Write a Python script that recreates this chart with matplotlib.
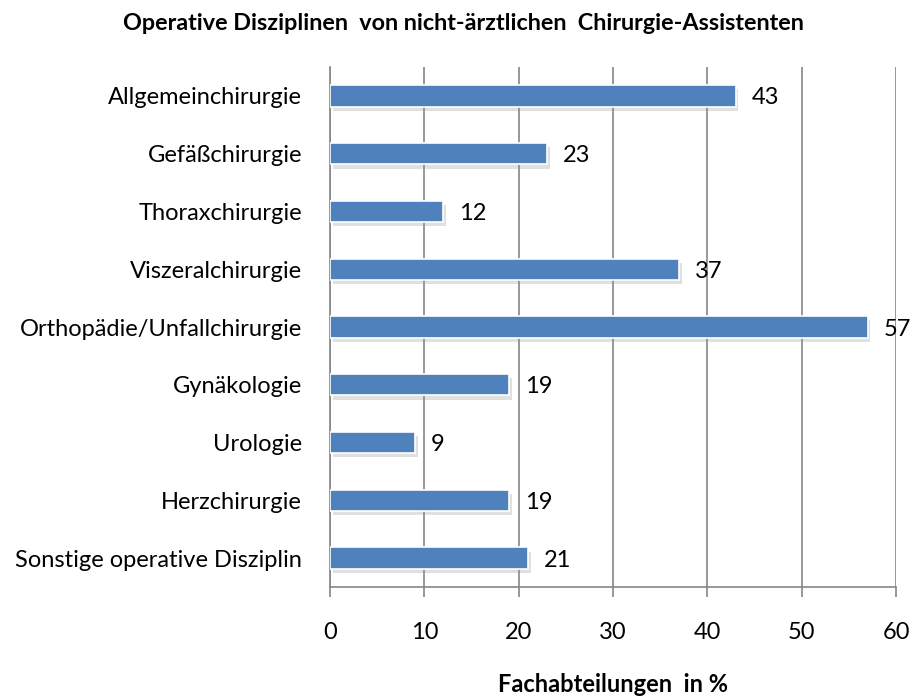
import matplotlib
matplotlib.use("Agg")
import matplotlib.pyplot as plt
import matplotlib.patheffects as pe

categories = ["Allgemeinchirurgie", "Gefäßchirurgie", "Thoraxchirurgie",
              "Viszeralchirurgie", "Orthopädie/Unfallchirurgie", "Gynäkologie",
              "Urologie", "Herzchirurgie", "Sonstige operative Disziplin"]
values = [43, 23, 12, 37, 57, 19, 9, 19, 21]
xticks = [0, 10, 20, 30, 40, 50, 60]

plt.rcParams['font.family'] = ['Lato', 'DejaVu Sans']

fig = plt.figure(figsize=(9.13, 6.97), dpi=100)
ax = fig.add_axes([330/913, 1-587/697, (896-330)/913, (587-67)/697])

grid_c = '#868686'
y = list(range(len(categories)))
bars = ax.barh(y, values, height=0.37, color='#4F81BD', edgecolor='white',
               linewidth=1.2, zorder=3)
for b in bars:
    b.set_path_effects([pe.SimplePatchShadow(offset=(2, -3), shadow_rgbFace='#999999', alpha=0.3),
                        pe.Normal()])

for yi, v in zip(y, values):
    ax.text(v + 1.7, yi, str(v), va='center_baseline', ha='left', fontsize=17,
            color='black', zorder=4)

ax.set_xlim(0, 60)
ax.set_ylim(len(categories) - 0.5, -0.5)
ax.set_xticks(xticks)
ax.set_xticklabels([str(t) for t in xticks], fontsize=17)
ax.set_yticks(y)
ax.set_yticklabels(categories, fontsize=17, va='center_baseline')
ax.tick_params(axis='y', length=0, pad=20)
ax.tick_params(axis='x', length=7, color=grid_c, width=1.2, pad=18)

ax.grid(axis='x', color=grid_c, linewidth=1.2, zorder=0)
ax.set_axisbelow(True)
for s in ['top', 'right']:
    ax.spines[s].set_visible(False)
for s in ['left', 'bottom']:
    ax.spines[s].set_color(grid_c)
    ax.spines[s].set_linewidth(1.2)

ax.set_xlabel("Fachabteilungen  in %", fontsize=17, fontweight='bold', labelpad=22)
fig.text(463/913, 1-23/697, "Operative Disziplinen  von nicht-ärztlichen  Chirurgie-Assistenten",
         ha='center', va='center', fontsize=16.8, fontweight='bold')

fig.savefig("out.png", dpi=100)
